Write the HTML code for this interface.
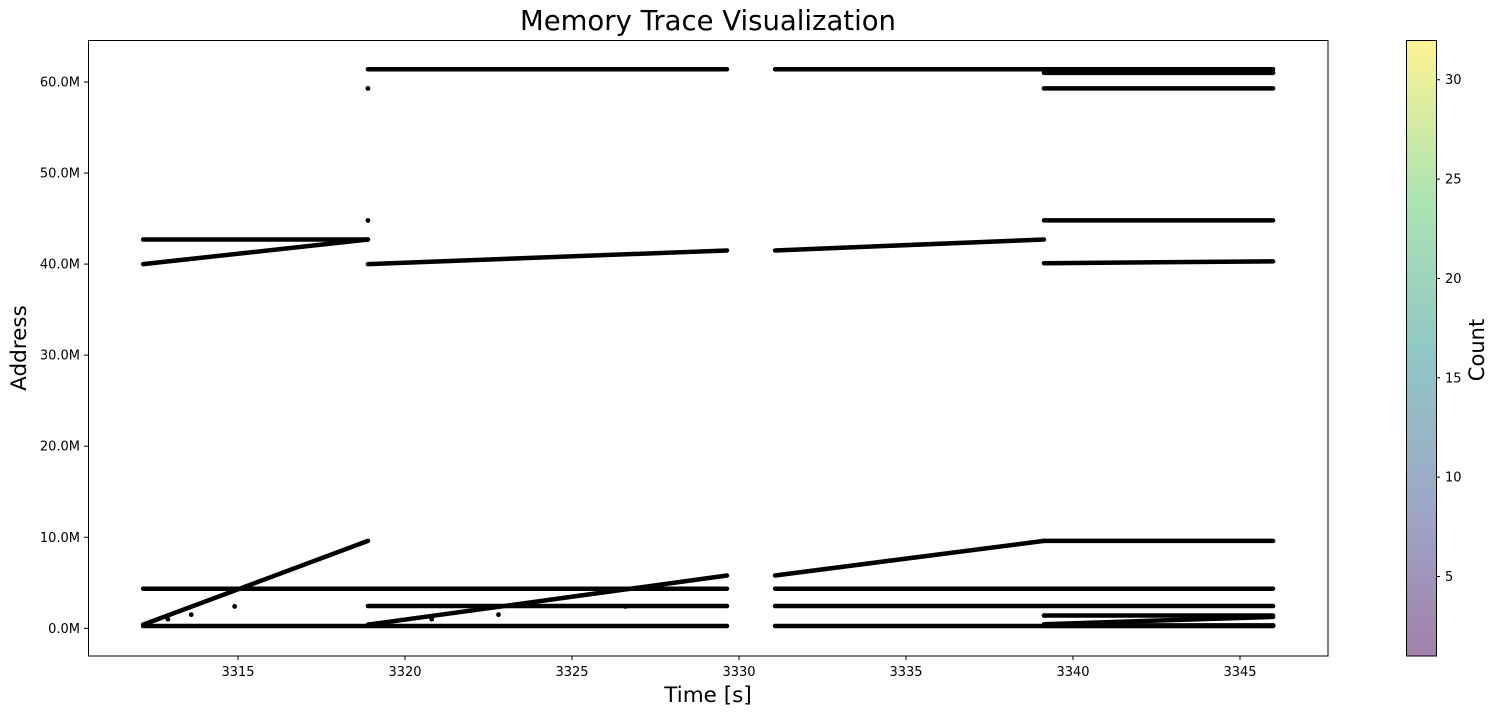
<!DOCTYPE html>
<html><head><meta charset="utf-8"><style>
body{margin:0;background:#fff;}
svg{display:block;font-family:"DejaVu Sans","Liberation Sans",sans-serif;}
</style></head><body>
<svg id="chart" width="1499" height="715">
<defs>
<linearGradient id="vir" x1="0" y1="1" x2="0" y2="0">
<stop offset="0" stop-color="#440154"/><stop offset="0.25" stop-color="#3b528b"/><stop offset="0.5" stop-color="#21918c"/><stop offset="0.75" stop-color="#5ec962"/><stop offset="1" stop-color="#fde725"/>
</linearGradient>
</defs>
<text x="708" y="30" font-size="27.5" text-anchor="middle">Memory Trace Visualization</text>
<g id="marks"></g>
<rect x="88.5" y="40.5" width="1239.5" height="615.5" fill="none" stroke="#000" stroke-width="1"/>
<g id="xticks"></g>
<g id="yticks"></g>
<text x="708" y="702" font-size="21.5" text-anchor="middle">Time [s]</text>
<text transform="translate(26,348) rotate(-90)" font-size="21.5" text-anchor="middle">Address</text>
<rect x="1406" y="40" width="30" height="616" fill="url(#vir)" opacity="0.5"/>
<rect x="1406.5" y="40.5" width="30" height="615.5" fill="none" stroke="#000" stroke-width="1"/>
<g id="cticks"></g>
<text transform="translate(1484,350) rotate(-90)" font-size="21" text-anchor="middle">Count</text>
</svg>
<script>
const xTicks=[3315,3320,3325,3330,3335,3340,3345];
const yTicks=[0,10,20,30,40,50,60];
const cTicks=[5,10,15,20,25,30];
// segments: start time, start address (M), end time, end address (M)
const segT0=[3312.16,3312.16,3312.16,3312.16,3312.16,3318.89,3318.89,3318.89,3318.89,3331.08,3331.08,3331.08,3331.08,3331.08,3331.08,3339.13,3339.13,3339.13,3339.13,3339.13,3339.13,3339.13];
const segA0=[42.7,40.0,4.35,0.4,0.25,61.4,40.0,2.45,0.4,61.4,41.5,5.8,4.35,2.45,0.25,61.0,59.3,44.8,40.1,9.6,1.4,0.45];
const segT1=[3318.89,3318.89,3329.64,3318.89,3329.64,3329.64,3329.64,3329.64,3329.64,3345.99,3339.13,3339.13,3345.99,3345.99,3345.99,3345.99,3345.99,3345.99,3345.99,3345.99,3345.99,3345.99];
const segA1=[42.7,42.7,4.35,9.6,0.25,61.4,41.5,2.45,5.8,61.4,42.7,9.6,4.35,2.45,0.25,61.0,59.3,44.8,40.3,9.6,1.4,1.25];
const dotT=[3318.89,3318.89,3314.9,3313.6,3312.9,3320.8,3322.8,3326.6];
const dotA=[59.3,44.8,2.4,1.5,1.0,1.0,1.5,2.4];
const X=t=>238+(t-3315)*33.4;
const Y=a=>628.3-a*9.105;
const C=v=>656-(v-1)*(616/31);
const NS="http://www.w3.org/2000/svg";
const mk=(tag,attrs,parent)=>{const e=document.createElementNS(NS,tag);for(const k in attrs)e.setAttribute(k,attrs[k]);parent.appendChild(e);return e;};
const marks=document.getElementById('marks');
for(let i=0;i<segT0.length;i++){
 const l=mk('line',{x1:X(segT0[i]),y1:Y(segA0[i]),x2:X(segT1[i]),y2:Y(segA1[i]),stroke:'#000','stroke-width':4.5,'stroke-linecap':'round'},marks);
 
 
}
const band=mk('line',{x1:X(3339.13),y1:Y(0.3),x2:X(3345.99),y2:Y(0.3),stroke:'#000','stroke-width':5,'stroke-linecap':'round'},marks);


for(let i=0;i<dotT.length;i++){
 const c=mk('circle',{cx:X(dotT[i]),cy:Y(dotA[i]),r:2.4,fill:'#000'},marks);
 
 
}
const xg=document.getElementById('xticks');
xTicks.forEach(t=>{
 const l=mk('line',{x1:X(t),x2:X(t),y1:656,y2:660,stroke:'#000'},xg);
 
 
 const tx=mk('text',{x:X(t),y:676,'font-size':13,'text-anchor':'middle'},xg);
 tx.textContent=t;
 
 
});
const yg=document.getElementById('yticks');
yTicks.forEach(a=>{
 const l=mk('line',{x1:84,x2:88,y1:Y(a),y2:Y(a),stroke:'#000'},yg);
 
 
 const tx=mk('text',{x:80,y:Y(a)+4.5,'font-size':13,'text-anchor':'end'},yg);
 tx.textContent=a.toFixed(1)+'M';
 
 
});
const cg=document.getElementById('cticks');
cTicks.forEach(v=>{
 const l=mk('line',{x1:1436,x2:1440,y1:C(v),y2:C(v),stroke:'#000'},cg);
 
 
 const tx=mk('text',{x:1445,y:C(v)+4.5,'font-size':13},cg);
 tx.textContent=v;
 
 
});
</script>
</body></html>
